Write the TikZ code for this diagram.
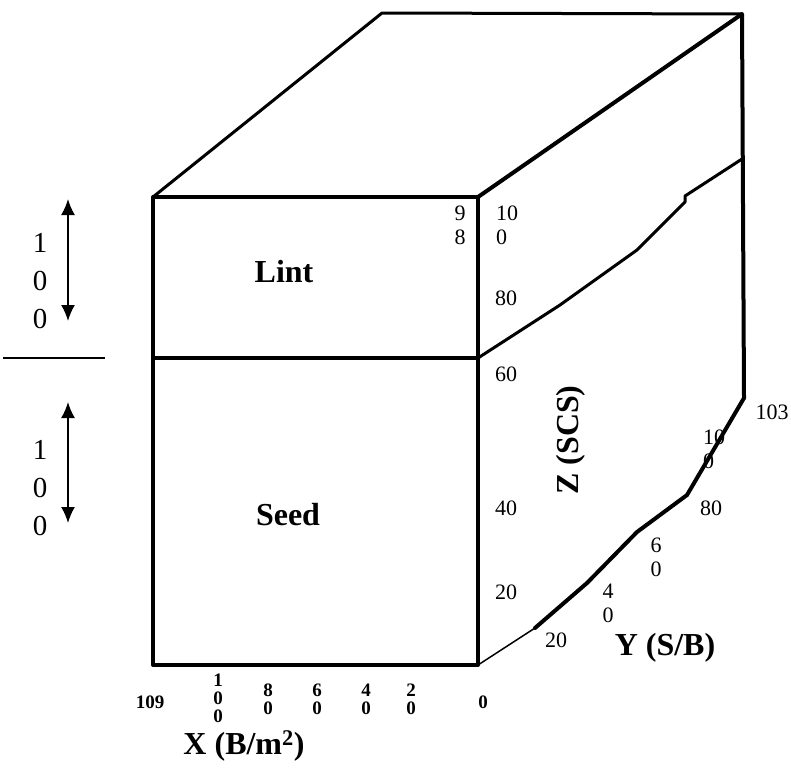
\documentclass[tikz,border=0pt]{standalone}
\usepackage{fontspec}
\setmainfont{Liberation Serif}
\usetikzlibrary{arrows.meta}
\begin{document}
\begin{tikzpicture}[x=1pt,y=-1pt,
  edge/.style={line width=4pt, line join=round, line cap=round},
  midedge/.style={line width=3pt, line join=round, line cap=round},
  thinline/.style={line width=1.5pt},
  num/.style={font=\fontsize{22}{24}\selectfont, align=center, inner sep=0pt},
  bnum/.style={font=\fontsize{19}{18}\selectfont\bfseries, align=center, inner sep=0pt},
  big/.style={font=\fontsize{29}{38}\selectfont, align=center, inner sep=0pt},
  ttl/.style={font=\fontsize{32}{34}\selectfont\bfseries, inner sep=0pt},
  dbl/.style={line width=1.8pt, {Latex[length=16pt,width=14pt]}-{Latex[length=16pt,width=14pt]}}]
\useasboundingbox (0,0) rectangle (791,771);
% corners
\coordinate (FTL) at (153,197);
\coordinate (FTR) at (478,197);
\coordinate (FML) at (153,358);
\coordinate (FMR) at (478,358);
\coordinate (FBL) at (153,665);
\coordinate (FBR) at (478,665);
\coordinate (BTL) at (382,13);
\coordinate (BTR) at (742,14);
\coordinate (BBR) at (744,398);
\coordinate (BMR) at (742,159);
\coordinate (Yend) at (535,628);
% front face
\draw[edge] (FTL) rectangle (FBR);
\draw[edge] (FML) -- (FMR);
% top face
\draw[midedge] (FTL) -- (BTL) -- (BTR);
\draw[edge] (FTR) -- (BTR) -- (BBR);
% back bottom edge
\draw[edge] (BBR) -- (687,495) -- (637,532) -- (587,583) -- (Yend);
\draw[thinline] (Yend) -- (FBR);
% middle boundary on the side
\draw[midedge] (FMR) -- (560,305) -- (637,250) -- (685,202) -- (685,196) -- (BMR);
% left scale
\draw[thinline] (3,358) coordinate (Lh1) -- (105,358) coordinate (Lh2);
\coordinate (A1t) at (68,199); \coordinate (A1b) at (68,321);
\coordinate (A2t) at (68,402); \coordinate (A2b) at (68,523);
\draw[dbl] (A1t) -- (A1b);
\draw[dbl] (A2t) -- (A2b);
\node[big] (L1) at (40,281) {1\\0\\0};
\node[big] (L2) at (40,488) {1\\0\\0};
% titles
\node[ttl] (lint) at (284,272) {Lint};
\node[ttl] (seed) at (288,515) {Seed};
\node[ttl, rotate=90] (zlab) at (571,440) {Z (SCS)};
\node[ttl] (ylab) at (665,648) {Y (S/B)};
\node[ttl] (xlab) at (244,746) {X (B/m\textsuperscript{2})};
% Z numbers
\node[num] (z98) at (460,225) {9\\8};
\node[num, align=left] (z100) at (507,225) {10\\0};
\node[num] (z80) at (506,298) {80};
\node[num] (z60) at (506,374) {60};
\node[num] (z40) at (506,508) {40};
\node[num] (z20) at (506,592) {20};
% Y numbers
\node[num] (y20) at (556,640) {20};
\node[num] (y40) at (608,603) {4\\0};
\node[num] (y60) at (656,557) {6\\0};
\node[num] (y80) at (711,508) {80};
\node[num, align=left] (y100) at (714,449) {10\\0};
\node[num] (y103) at (772,412) {103};
% X numbers
\node[bnum] (x109) at (150,702) {109};
\node[bnum] (x100) at (218,698) {1\\0\\0};
\node[bnum] (x80) at (268,699) {8\\0};
\node[bnum] (x60) at (317,699) {6\\0};
\node[bnum] (x40) at (366,699) {4\\0};
\node[bnum] (x20) at (411,699) {2\\0};
\node[bnum] (x0) at (483,702) {0};
\end{tikzpicture}
\end{document}
